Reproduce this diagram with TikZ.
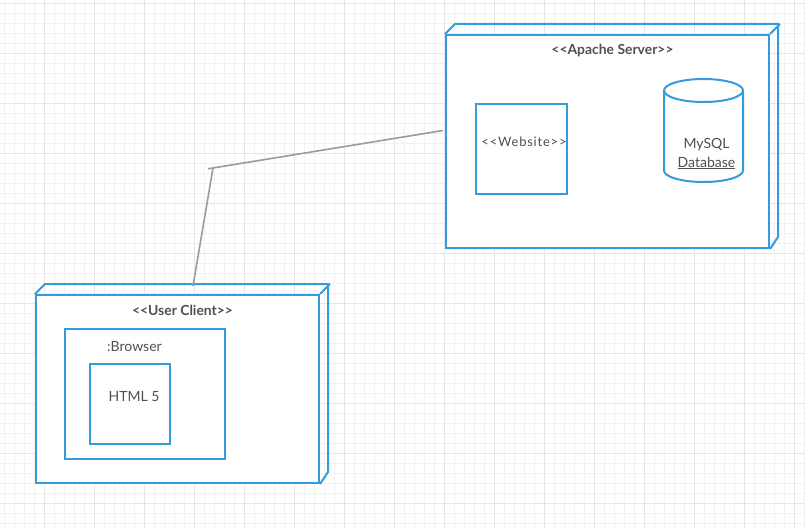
\documentclass[tikz,border=0pt]{standalone}
\usepackage{fontspec}
\setmainfont{Lato}
\usepackage{xcolor}
\usetikzlibrary{positioning,calc}

\definecolor{umlblue}{RGB}{52,155,220}
\definecolor{umltext}{RGB}{80,80,80}
\definecolor{linkgray}{RGB}{155,155,155}
\definecolor{gridminor}{RGB}{241,241,241}
\definecolor{gridmajor}{RGB}{230,230,230}

\newcommand{\stereo}[1]{<{}<#1>{}>}

\tikzset{
	device/.style={draw=umlblue,line width=2pt,fill=white,inner sep=0pt,anchor=north west},
	part/.style={draw=umlblue,line width=2pt,inner sep=0pt},
	depth/.style={draw=umlblue,line width=2pt,line join=miter},
	title/.style={text=umltext,font=\bfseries\fontsize{13.9}{16}\selectfont,inner sep=0pt},
	caption/.style={text=umltext,font=\fontsize{14}{19}\selectfont,inner sep=0pt,align=center},
	link/.style={draw=linkgray,line width=1.6pt},
}

\begin{document}
\begin{tikzpicture}[x=1pt,y=-1pt]
		\useasboundingbox (0,0) rectangle (805,529);
		% background grid
		\draw[gridminor,line width=0.8pt,shift={(4,3)}] (-4,-3) grid[step=10pt] (801,526);
		\draw[gridmajor,line width=0.8pt,shift={(44,3)}] (-44,-3) grid[step=50pt] (761,526);
		
		% nodes
		\node[device,minimum width=323pt,minimum height=213pt] (server) at (445,34) {};
		\node[device,minimum width=283pt,minimum height=188pt] (client) at (35,294) {};
		\draw[depth] (server.north west) -- ++(10,-10) -- ++(323,0) -- ++(0,213) -- (server.south east);
		\draw[depth] (server.north east) -- ++(10,-10);
		\draw[depth] (client.north west) -- ++(10,-10) -- ++(283,0) -- ++(0,188) -- (client.south east);
		\draw[depth] (client.north east) -- ++(10,-10);
		
		\node[title] (servertitle) at ($(server.north)+(5,16.5)$) {\stereo{Apache Server}};
		\node[title] (clienttitle) at ($(client.north)+(5,16)$) {\stereo{User Client}};
		
		\node[part,anchor=north west,minimum width=91pt,minimum height=90pt,below right=69pt and 30pt of server.north west] (website) {};
		\node[caption,font=\fontsize{13}{15}\selectfont\addfontfeature{LetterSpace=6}] (websitelabel) at ($(website.north west)+(49,39)$) {\stereo{Website}};
		
		\node[part,anchor=north west,minimum width=160pt,minimum height=130pt,below right=34pt and 29pt of client.north west] (browser) {};
		\node[caption] (browserlabel) at ($(browser.north west)+(70.5,19)$) {:Browser};
		\node[part,anchor=north west,minimum width=80pt,minimum height=80pt,below right=35pt and 25pt of browser.north west] (html) {};
		\node[caption] (htmllabel) at ($(html.north west)+(45,34)$) {HTML 5};
		
		% database cylinder
		\coordinate (dbtop) at (703.5,90.5);
		\coordinate (dbbot) at (703.5,170.5);
		\draw[part,fill=white] ($(dbtop)+(-39.5,0)$) -- ($(dbbot)+(-39.5,0)$) arc[start angle=180,end angle=0,x radius=39.5,y radius=11.5] -- ($(dbtop)+(39.5,0)$);
		\draw[part] (dbtop) ellipse[x radius=39.5,y radius=11.5];
		\node[caption] (db) at (706.5,153.5) {MySQL\\\underline{Database}};
		
		% connector
		\coordinate (bend) at (213,168);
		\draw[link] ($(client.north)+(15.5,-8)$) -- (bend);
		\draw[link] ($(bend)+(-5,0.8)$) -- ($(server.west)+(-2,-11)$);
	\end{tikzpicture}
\end{document}
